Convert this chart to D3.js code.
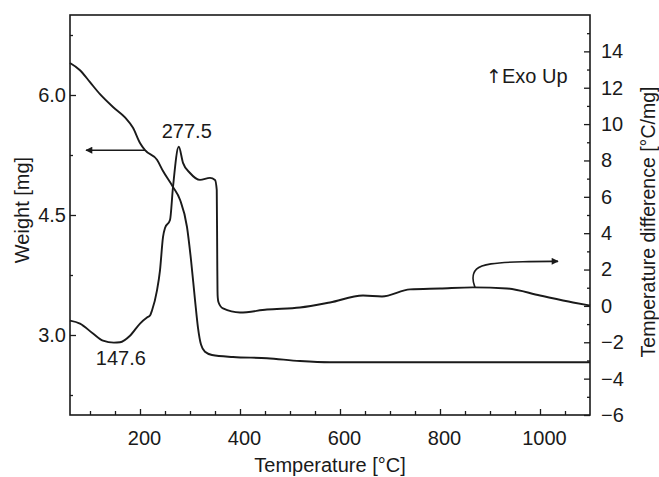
<!DOCTYPE html>
<html>
<head>
<meta charset="utf-8">
<script src="https://cdn.jsdelivr.net/npm/d3@7"></script>
<style>
  body { margin: 0; background: #fff; }
  text { font-family: "Liberation Sans", Arial, sans-serif; fill: #1a1a1a; }
</style>
</head>
<body>
<div id="chart"></div>
<script>
// weight curve (TG): temperature [°C] -> weight [mg]
const tgTemp = [60, 80, 100, 120, 146, 170, 186, 200, 210, 234, 246, 266, 280, 294, 302, 310, 316, 322, 330, 344, 386, 454, 520, 580, 820, 1100];
const tgWeight = [6.40, 6.31, 6.16, 6.01, 5.85, 5.72, 5.59, 5.40, 5.31, 5.19, 5.05, 4.85, 4.69, 4.35, 3.94, 3.44, 3.09, 2.88, 2.79, 2.75, 2.725, 2.71, 2.675, 2.66, 2.66, 2.66];

// temperature difference curve (DTA): temperature [°C] -> [°C/mg]
const dtaTemp = [60, 80, 106, 126, 147.6, 160, 180, 200, 214, 220, 224, 234, 240, 246, 250, 260, 266, 277.5, 286, 300, 320, 340, 350, 353.5, 354.5, 355, 355.5, 357, 366, 400, 454, 520, 580, 646, 684, 740, 800, 866, 934, 1000, 1066, 1100];
const dtaValue = [-0.81, -0.97, -1.52, -1.91, -2.02, -2.0, -1.64, -0.97, -0.64, -0.53, -0.25, 0.85, 1.96, 3.78, 4.28, 4.72, 6.54, 8.75, 7.87, 7.31, 6.93, 7.04, 6.93, 6.38, 2.51, 0.85, 0.46, 0.2, -0.14, -0.36, -0.20, -0.09, 0.19, 0.57, 0.52, 0.91, 0.96, 1.02, 0.96, 0.57, 0.19, 0.02];

// axis ticks
const xMajor = [200, 400, 600, 800, 1000];
const xMinor = [100, 150, 250, 300, 350, 450, 500, 550, 650, 700, 750, 850, 900, 950, 1050];
const wMajor = [3.0, 4.5, 6.0];
const wMinor = [2.25, 3.75, 5.25, 6.75];
const dMajor = [-6, -4, -2, 0, 2, 4, 6, 8, 10, 12, 14];
const dMinor = [-5, -3, -1, 1, 3, 5, 7, 9, 11, 13, 15];

// annotation arrows (data coordinates)
const leftArrowT = [210, 92];
const leftArrowW = 5.31;
const rightArrowT = [870, 864, 870, 894, 966, 1036];
const rightArrowD = [1.02, 1.51, 2.07, 2.34, 2.45, 2.45];

const W = 659, H = 477;
const margin = { top: 15, right: 69, bottom: 62, left: 70 };
const width = W - margin.left - margin.right;
const height = H - margin.top - margin.bottom;

const svg = d3.select("#chart").append("svg")
  .attr("width", W).attr("height", H)
  .append("g")
  .attr("transform", `translate(${margin.left},${margin.top})`);

const x = d3.scaleLinear().domain([60, 1100]).range([0, width]);
const yW = d3.scaleLinear().domain([2, 7]).range([height, 0]);
const yD = d3.scaleLinear().domain([-6, 16]).range([height, 0]);

const fmt1 = d3.format(".1f");
const minus = (d) => d3.format("d")(d).replace("-", "\u2212");

// bottom axis, ticks inside
svg.append("g").attr("transform", `translate(0,${height})`)
  .call(d3.axisBottom(x).tickValues(xMajor).tickSizeInner(-6).tickSizeOuter(0).tickPadding(16).tickFormat(d3.format("d")))
  .call((g) => g.select(".domain").remove())
  .call((g) => g.selectAll(".tick text").attr("dx", 4));
svg.append("g").attr("transform", `translate(0,${height})`)
  .call(d3.axisBottom(x).tickValues(xMinor).tickSizeInner(-4).tickSizeOuter(0).tickFormat(""))
  .call((g) => g.select(".domain").remove());

// left axis
svg.append("g")
  .call(d3.axisLeft(yW).tickValues(wMajor).tickSizeInner(-6).tickSizeOuter(0).tickPadding(4).tickFormat(fmt1))
  .call((g) => g.select(".domain").remove());
svg.append("g")
  .call(d3.axisLeft(yW).tickValues(wMinor).tickSizeInner(-3).tickSizeOuter(0).tickFormat(""))
  .call((g) => g.select(".domain").remove());

// right axis
svg.append("g").attr("transform", `translate(${width},0)`)
  .call(d3.axisRight(yD).tickValues(dMajor).tickSizeInner(-6).tickSizeOuter(0).tickPadding(11).tickFormat(minus))
  .call((g) => g.select(".domain").remove());
svg.append("g").attr("transform", `translate(${width},0)`)
  .call(d3.axisRight(yD).tickValues(dMinor.filter((d) => d < 16)).tickSizeInner(-3).tickSizeOuter(0).tickFormat(""))
  .call((g) => g.select(".domain").remove());

svg.selectAll(".tick line").attr("stroke", "#1a1a1a").attr("stroke-width", 1.3);
svg.selectAll(".tick text").style("font-size", "20px").attr("fill", "#1a1a1a");

// frame
svg.append("rect")
  .attr("width", width).attr("height", height)
  .attr("fill", "none").attr("stroke", "#1a1a1a").attr("stroke-width", 1.6);

const line = d3.line().curve(d3.curveMonotoneX);

svg.append("path")
  .attr("d", line(tgTemp.map((t, i) => [x(t), yW(tgWeight[i])])))
  .attr("fill", "none").attr("stroke", "#1a1a1a").attr("stroke-width", 1.9);

svg.append("path")
  .attr("d", line(dtaTemp.map((t, i) => [x(t), yD(dtaValue[i])])))
  .attr("fill", "none").attr("stroke", "#1a1a1a").attr("stroke-width", 1.9);

// arrows
const defs = svg.append("defs");
defs.append("marker")
  .attr("id", "head").attr("viewBox", "0 0 10 10")
  .attr("refX", 9).attr("refY", 5)
  .attr("markerWidth", 11).attr("markerHeight", 7)
  .attr("markerUnits", "userSpaceOnUse")
  .attr("orient", "auto")
  .append("path").attr("d", "M0,0 L10,5 L0,10 Z").attr("fill", "#1a1a1a");

svg.append("path")
  .attr("d", d3.line()(leftArrowT.map((t) => [x(t), yW(leftArrowW)])))
  .attr("fill", "none").attr("stroke", "#1a1a1a").attr("stroke-width", 1.6)
  .attr("marker-end", "url(#head)");

svg.append("path")
  .attr("d", d3.line().curve(d3.curveBasis)(rightArrowT.map((t, i) => [x(t), yD(rightArrowD[i])])))
  .attr("fill", "none").attr("stroke", "#1a1a1a").attr("stroke-width", 1.6)
  .attr("marker-end", "url(#head)");

// peak labels
svg.append("text")
  .attr("x", x(277.5) + 8).attr("y", yD(8.75) - 9)
  .attr("text-anchor", "middle").style("font-size", "20px")
  .text("277.5");

svg.append("text")
  .attr("x", x(147.6) + 7).attr("y", yD(-2.02) + 22)
  .attr("text-anchor", "middle").style("font-size", "20px")
  .text("147.6");

const exo = svg.append("text")
  .attr("x", 416).attr("y", 68)
  .style("font-size", "20px");
exo.append("tspan").style("font-family", "DejaVu Sans").style("font-size", "19px").text("\u2191");
exo.append("tspan").text("Exo Up");

// axis titles
svg.append("text")
  .attr("x", width / 2).attr("y", height + 57)
  .attr("text-anchor", "middle").style("font-size", "20px")
  .text("Temperature [\u00b0C]");

svg.append("text")
  .attr("transform", "rotate(-90)")
  .attr("x", -195).attr("y", -41)
  .attr("text-anchor", "middle").style("font-size", "20px")
  .text("Weight [mg]");

svg.append("text")
  .attr("transform", "rotate(-90)")
  .attr("x", -207).attr("y", width + 65)
  .attr("text-anchor", "middle").style("font-size", "19.5px")
  .text("Temperature difference [\u00b0C/mg]");
</script>
</body>
</html>
